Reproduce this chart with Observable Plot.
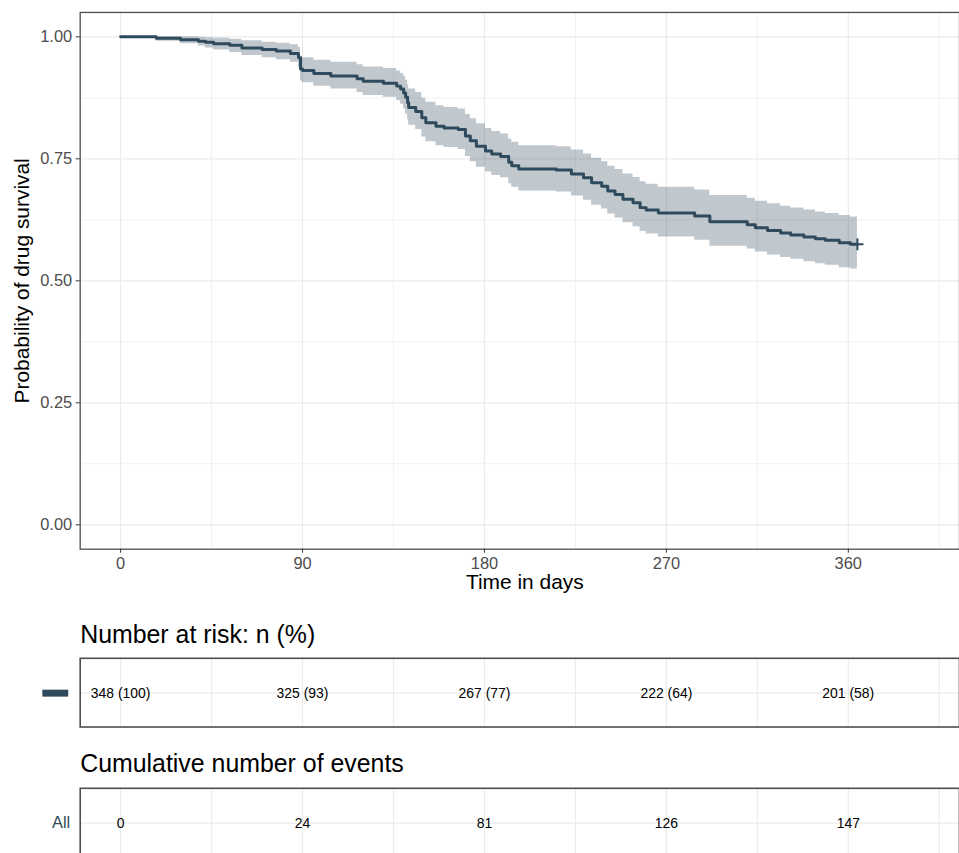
<!DOCTYPE html>
<html><head><meta charset="utf-8">
<script src="https://cdn.jsdelivr.net/npm/d3@7"></script>
<script src="https://cdn.jsdelivr.net/npm/@observablehq/plot@0.6"></script>
<style>
html,body{margin:0;padding:0;background:#fff;overflow:hidden;width:959px;height:853px;}
#wrap{position:relative;width:959px;height:853px;overflow:hidden;font-family:"Liberation Sans",Arial,sans-serif;}
.part{position:absolute;left:0;}
</style></head><body><div id="wrap">
<div id="main" class="part" style="top:0"></div>
<div id="risk" class="part" style="top:610px"></div>
<div id="cum" class="part" style="top:742px"></div>
</div>
<script>
// Kaplan-Meier step starts (days), survival, 95% CI lower / upper
const time  = [0,17.6,29.6,38.5,42,46,54,60,70,77,84,88,89,90,95.6,104,117,120,130,136.6,138.5,140,141,142,142.5,146,149,151,156,160,167,170.6,173,176,180.5,183.6,188,192,193.5,197,215.5,223,229,233,238,241,244.6,248.5,253.5,257,260,266,284,291.5,310,314,320,326.5,331.5,338,343.7,348.6,355.5,361,364.5];
const surv  = [1,0.997,0.994,0.991,0.989,0.986,0.983,0.977,0.974,0.971,0.966,0.957,0.934,0.931,0.925,0.920,0.914,0.909,0.905,0.899,0.893,0.885,0.876,0.865,0.855,0.847,0.834,0.824,0.817,0.813,0.810,0.797,0.787,0.776,0.766,0.760,0.755,0.743,0.736,0.729,0.727,0.719,0.711,0.701,0.694,0.684,0.677,0.667,0.660,0.650,0.645,0.639,0.633,0.621,0.615,0.609,0.603,0.598,0.594,0.590,0.586,0.583,0.578,0.575,0.575];
const lower = [1,0.991,0.986,0.981,0.977,0.973,0.968,0.962,0.957,0.953,0.948,0.936,0.909,0.906,0.899,0.893,0.886,0.880,0.876,0.869,0.862,0.852,0.842,0.830,0.819,0.810,0.795,0.785,0.777,0.773,0.769,0.755,0.744,0.733,0.723,0.716,0.711,0.699,0.692,0.684,0.682,0.674,0.665,0.655,0.647,0.637,0.629,0.619,0.611,0.601,0.596,0.590,0.583,0.571,0.565,0.559,0.553,0.548,0.544,0.539,0.535,0.532,0.527,0.524,0.524];
const upper = [1,1,1,0.999,0.998,0.997,0.995,0.992,0.989,0.987,0.984,0.978,0.960,0.957,0.952,0.948,0.943,0.938,0.935,0.930,0.925,0.919,0.911,0.902,0.893,0.886,0.874,0.866,0.859,0.855,0.852,0.841,0.832,0.822,0.812,0.806,0.801,0.790,0.784,0.777,0.775,0.768,0.760,0.751,0.744,0.735,0.728,0.719,0.712,0.703,0.698,0.692,0.686,0.675,0.669,0.663,0.658,0.653,0.649,0.645,0.641,0.638,0.634,0.631,0.631];
const censorTime = [364.5];
const censorSurv = [0.575];

const tableTimes = [0, 90, 180, 270, 360];
const atRisk     = [348, 325, 267, 222, 201];
const atRiskPct  = [100, 93, 77, 64, 58];
const cumEvents  = [0, 24, 81, 126, 147];

const xTicks = [0, 90, 180, 270, 360];
const xMinor = [45, 135, 225, 315, 405];
const yTicks = [0, 0.25, 0.5, 0.75, 1];
const yMinor = [0.125, 0.375, 0.625, 0.875];

// panel continues past the right edge of the picture (cropped like the reference)
const W = 963, ML = 80;
const xDomain = [-20, 415];
const lineColor = "#2E4A5C";
const gridCol = "#EBEBEB";
const borderCol = "#4D4D4D";
const font = "Liberation Sans, Arial, sans-serif";

const km = time.map((t, i) => ({t, s: surv[i], lo: lower[i], hi: upper[i]}));
const cens = censorTime.map((t, i) => ({t, s: censorSurv[i]}));

const main = Plot.plot({
  width: W, height: 606, marginLeft: ML, marginRight: 0, marginTop: 12, marginBottom: 55,
  style: {fontFamily: font, background: "white"},
  x: {domain: xDomain},
  y: {domain: [-0.05, 1.05]},
  marks: [
    Plot.ruleX(xMinor, {stroke: gridCol, strokeWidth: 0.7}),
    Plot.ruleY(yMinor, {stroke: gridCol, strokeWidth: 0.7}),
    Plot.ruleX(xTicks, {stroke: gridCol, strokeWidth: 1.2}),
    Plot.ruleY(yTicks, {stroke: gridCol, strokeWidth: 1.2}),
    Plot.areaY(km, {x: "t", y1: "lo", y2: "hi", curve: "step-after", fill: lineColor, fillOpacity: 0.3}),
    Plot.line(km, {x: "t", y: "s", curve: "step-after", stroke: lineColor, strokeWidth: 3}),
    Plot.dot(cens, {x: "t", y: "s", symbol: "plus", r: 4, stroke: lineColor, strokeWidth: 2}),
    Plot.frame({stroke: borderCol, strokeWidth: 1.3}),
    Plot.axisX({ticks: xTicks, tickSize: 4, tickPadding: 4, fontSize: 16.5, stroke: "#333", fill: "#4D4D4D", label: null}),
    Plot.axisY({ticks: yTicks, tickFormat: d3.format(".2f"), tickSize: 4, tickPadding: 4, fontSize: 16.5, stroke: "#333", fill: "#4D4D4D", label: null}),
    Plot.text(["Time in days"], {frameAnchor: "bottom", textAnchor: "middle", dy: 40, dx: 5, fontSize: 21, fill: "black"}),
    Plot.text(["Probability of drug survival"], {frameAnchor: "left", textAnchor: "middle", dx: -58, rotate: -90, fontSize: 21, fill: "black"})
  ]
});
document.getElementById("main").append(main);

const rectSymbol = {draw(ctx) { ctx.rect(-13, -3.5, 26, 7); }};

function table(rowName, labels, title, mTop, dyTitle, showGlyph) {
  const data = tableTimes.map((t, i) => ({t, row: rowName, label: labels[i]}));
  return Plot.plot({
    width: W, height: mTop + 71, marginLeft: ML, marginRight: 0, marginTop: mTop, marginBottom: 2,
    style: {fontFamily: font, background: "white"},
    x: {domain: xDomain, axis: null},
    y: {type: "point", domain: [rowName], axis: null},
    marks: [
      Plot.ruleX(xTicks.concat(xMinor), {stroke: gridCol, strokeWidth: 1.2}),
      Plot.ruleY([rowName], {stroke: gridCol, strokeWidth: 1.2}),
      Plot.text(data, {x: "t", y: "row", text: "label", fontSize: 14, fill: "black"}),
      Plot.frame({stroke: borderCol, strokeWidth: 1.6}),
      Plot.text([title], {frameAnchor: "top-left", textAnchor: "start", lineAnchor: "bottom", dy: dyTitle, fontSize: 25, fill: "black"}),
      showGlyph
        ? Plot.dot([rowName], {y: d => d, frameAnchor: "left", dx: -25, symbol: rectSymbol, fill: lineColor, stroke: null})
        : Plot.axisY({tickSize: 0, tickPadding: 10, fontSize: 16.5, fill: lineColor, label: null})
    ]
  });
}

document.getElementById("risk").append(
  table("strata", atRisk.map((n, i) => `${n} (${atRiskPct[i]})`), "Number at risk: n (%)", 48, -15, true)
);
document.getElementById("cum").append(
  table("All", cumEvents.map(String), "Cumulative number of events", 46, -16, false)
);
</script>
</body></html>
